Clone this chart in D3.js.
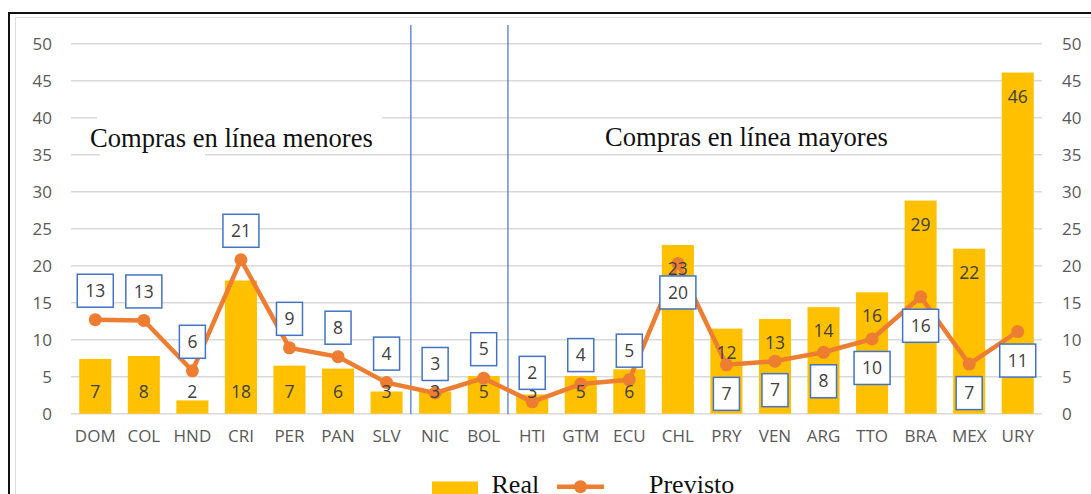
<!DOCTYPE html>
<html>
<head>
<meta charset="utf-8">
<script src="https://cdn.jsdelivr.net/npm/d3@7"></script>
<style>
  body { margin: 0; background: #fff; }
  svg { display: block; }
</style>
</head>
<body>
<svg id="chart" width="1091" height="494"></svg>
<script>
// Countries, ordered by the size of online purchases
const categories = ["DOM","COL","HND","CRI","PER","PAN","SLV","NIC","BOL","HTI",
                    "GTM","ECU","CHL","PRY","VEN","ARG","TTO","BRA","MEX","URY"];
// Actual purchases (bars)
const realValues = [7.4,7.8,1.8,18.0,6.5,6.1,3.0,3.0,5.1,2.6,
                    5.1,6.0,22.8,11.5,12.8,14.4,16.4,28.8,22.3,46.1];
// Predicted purchases (line)
const previstoValues = [12.7,12.6,5.8,20.8,8.9,7.7,4.2,2.8,4.8,1.6,
                        4.0,4.6,20.3,6.6,7.1,8.3,10.1,15.8,6.7,11.1];
const yTicks = [0,5,10,15,20,25,30,35,40,45,50];
const groupLabels = ["Compras en línea menores","Compras en línea mayores"];
const legendLabels = ["Real","Previsto"];
// Vertical separators are drawn just before these countries
const separatorsBefore = ["NIC","HTI"];
// From this country on, labels switch placement
const flipFrom = "CHL";

const W = 1091, H = 494;
const svg = d3.select("#chart");
const plot = { left: 71, right: 1042, top: 43.7, bottom: 413.7 };

const x = d3.scaleBand().domain(categories)
  .range([plot.left, plot.right]).paddingInner(0.34).paddingOuter(0.17);
const y = d3.scaleLinear().domain([0, 50]).range([plot.bottom, plot.top]);
const fmt = v => d3.format(".0f")(Math.round(v));
const flipIdx = categories.indexOf(flipFrom);

const COL_BAR = "#FFC000", COL_LINE = "#ED7D31", COL_BOX = "#4472C4";
const AXIS_FONT = "'Open Sans', 'Noto Sans', sans-serif";
const SERIF = "'Liberation Serif', 'Times New Roman', serif";

// Frame
svg.append("rect").attr("x", 9).attr("y", 13).attr("width", W + 20).attr("height", H + 20)
  .attr("fill", "none").attr("stroke", "#111").attr("stroke-width", 2);
svg.append("rect").attr("x", 15.5).attr("y", 17.5).attr("width", W + 20).attr("height", H + 20)
  .attr("fill", "none").attr("stroke", "#dcdcdc").attr("stroke-width", 1);

// Gridlines
svg.append("g").selectAll("line").data(yTicks).join("line")
  .attr("x1", plot.left).attr("x2", plot.right)
  .attr("y1", d => y(d)).attr("y2", d => y(d))
  .attr("stroke", "#d9d9d9").attr("stroke-width", 1.5);

// Left and right value axes
const axisL = d3.axisLeft(y).tickValues(yTicks).tickSize(0).tickPadding(19);
const axisR = d3.axisRight(y).tickValues(yTicks).tickSize(0).tickPadding(20);
[[axisL, plot.left], [axisR, plot.right]].forEach(([ax, pos]) => {
  const g = svg.append("g").attr("transform", `translate(${pos},0)`).call(ax);
  g.select(".domain").remove();
  g.selectAll("text").attr("font-family", AXIS_FONT).attr("font-size", 17)
    .attr("fill", "#595959");
});

// Category axis
const axisB = svg.append("g").attr("transform", `translate(0,${plot.bottom})`)
  .call(d3.axisBottom(x).tickSize(0).tickPadding(16));
axisB.select(".domain").remove();
axisB.selectAll("text").attr("font-family", AXIS_FONT).attr("font-size", 17)
  .attr("fill", "#595959");

// White patch behind the left group label
svg.append("rect").attr("x", 97).attr("y", 110).attr("width", 285).attr("height", 40).attr("fill", "#fff");
svg.append("rect").attr("x", 100).attr("y", 150).attr("width", 105).attr("height", 9).attr("fill", "#fff");

// Group labels
svg.append("text").attr("x", 90).attr("y", 146.5).text(groupLabels[0])
  .attr("font-family", SERIF).attr("font-size", 26.6).attr("fill", "#111");
svg.append("text").attr("x", 605).attr("y", 146).text(groupLabels[1])
  .attr("font-family", SERIF).attr("font-size", 26.6).attr("fill", "#111");

// Separators
const gap = x.step() - x.bandwidth();
svg.append("g").selectAll("line").data(separatorsBefore).join("line")
  .attr("x1", d => x(d) - gap / 2).attr("x2", d => x(d) - gap / 2)
  .attr("y1", 25).attr("y2", plot.bottom + 0.5)
  .attr("stroke", COL_BOX).attr("stroke-width", 1.2);

// Bars
svg.append("g").selectAll("rect").data(realValues).join("rect")
  .attr("x", (d, i) => x(categories[i])).attr("width", x.bandwidth())
  .attr("y", d => y(d)).attr("height", d => y(0) - y(d))
  .attr("fill", COL_BAR);

// Predicted line and markers
const line = d3.line()
  .x((d, i) => x(categories[i]) + x.bandwidth() / 2)
  .y(d => y(d));
svg.append("path").datum(previstoValues).attr("d", line)
  .attr("fill", "none").attr("stroke", COL_LINE).attr("stroke-width", 4.5)
  .attr("stroke-linejoin", "round");
svg.append("g").selectAll("circle").data(previstoValues).join("circle")
  .attr("cx", (d, i) => x(categories[i]) + x.bandwidth() / 2)
  .attr("cy", d => y(d)).attr("r", 6.5).attr("fill", COL_LINE);

// Bar value labels
svg.append("g").selectAll("text").data(realValues).join("text")
  .attr("x", (d, i) => x(categories[i]) + x.bandwidth() / 2)
  .attr("y", (d, i) => i < flipIdx ? y(0) - 22 : y(d) + 24)
  .attr("dy", "0.35em").attr("text-anchor", "middle")
  .attr("font-family", AXIS_FONT).attr("font-size", 17.5).attr("fill", "#404040")
  .text(d => fmt(d));

// Boxed labels for predicted values
const boxes = svg.append("g").selectAll("g").data(previstoValues).join("g")
  .attr("transform", (d, i) => {
    const cx = x(categories[i]) + x.bandwidth() / 2;
    const cy = y(d) + (i < flipIdx ? -29 : 29);
    return `translate(${cx},${cy})`;
  });
boxes.append("rect").attr("fill", "#fff").attr("stroke", COL_BOX).attr("stroke-width", 1.5);
boxes.append("text").attr("text-anchor", "middle").attr("dy", "0.35em")
  .attr("font-family", AXIS_FONT).attr("font-size", 17.5).attr("fill", "#404040")
  .text(d => fmt(d));
boxes.each(function () {
  const g = d3.select(this);
  const w = g.select("text").node().getComputedTextLength() + 16;
  g.select("rect").attr("x", -w / 2).attr("y", -16.5).attr("width", w).attr("height", 33);
});

// Legend
const lg = svg.append("g");
lg.append("rect").attr("x", 432).attr("y", 481.5).attr("width", 46).attr("height", 14).attr("fill", COL_BAR);
lg.append("text").attr("x", 491.5).attr("y", 492.5).text(legendLabels[0])
  .attr("font-family", SERIF).attr("font-size", 26).attr("fill", "#111");
lg.append("line").attr("x1", 557).attr("x2", 604).attr("y1", 486.7).attr("y2", 486.7)
  .attr("stroke", COL_LINE).attr("stroke-width", 4.5);
lg.append("circle").attr("cx", 580.5).attr("cy", 486.7).attr("r", 6.5).attr("fill", COL_LINE);
lg.append("text").attr("x", 649).attr("y", 492.5).text(legendLabels[1])
  .attr("font-family", SERIF).attr("font-size", 26).attr("fill", "#111");
</script>
</body>
</html>
